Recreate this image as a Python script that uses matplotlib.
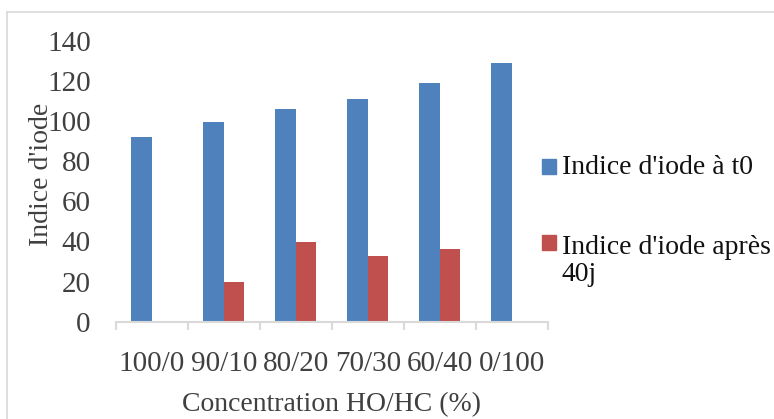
import numpy as np
import matplotlib.pyplot as plt
from matplotlib.lines import Line2D
from matplotlib.patches import Rectangle

# Indice d'iode selon le mélange HO/HC
concentrations = ['100/0', '90/10', '80/20', '70/30', '60/40', '0/100']
indice_t0 = [92, 99.5, 106, 111, 119, 129]
indice_40j = [np.nan, 20, 39.5, 32.5, 36, np.nan]

label_t0 = "Indice d'iode à t0"
label_40j = "Indice d'iode après\n40j"

bleu = '#4F81BD'
rouge = '#C0504D'
gris = '#D9D9D9'
texte = '#404040'

plt.rcParams['font.family'] = ['Liberation Serif', 'DejaVu Serif']

fig = plt.figure(figsize=(7.74, 4.19), dpi=100)
ax = fig.add_axes([0.1495, 0.2322, 0.5581, 0.6706])

x = np.arange(len(concentrations))
largeur = 0.285
ax.bar(x - largeur / 2, indice_t0, largeur, color=bleu, label=label_t0)
ax.bar(x + largeur / 2, indice_40j, largeur, color=rouge, label=label_40j)

ax.set_xlim(-0.5, len(concentrations) - 0.5)
ax.set_ylim(0, 140)
ax.set_yticks(np.arange(0, 141, 20))
ax.tick_params(axis='y', length=0, pad=18, labelsize=21, labelcolor=texte)

# séparateurs entre catégories, étiquettes au centre
ax.set_xticks(np.arange(-0.5, len(concentrations)), minor=False)
ax.set_xticklabels([])
ax.set_xticks(x, minor=True)
ax.set_xticklabels(concentrations, minor=True)
ax.tick_params(axis='x', which='major', length=6, width=1.5, color=gris, direction='out')
ax.tick_params(axis='x', which='minor', length=0, pad=21, labelsize=21, labelcolor=texte)

for cote in ['left', 'right', 'top']:
    ax.spines[cote].set_visible(False)
ax.spines['bottom'].set_color(gris)
ax.spines['bottom'].set_linewidth(1.5)

ax.set_ylabel("Indice d'iode", fontsize=20, color=texte)
ax.yaxis.set_label_coords(-0.143, 0.524)
ax.set_xlabel('Concentration HO/HC (%)', fontsize=20, color=texte)
ax.xaxis.label.set_va('center')
ax.xaxis.set_label_coords(0.5, -0.295)

# légende à droite
W, H = 774, 419
for (y_carre, couleur) in [(166.5, bleu), (242.5, rouge)]:
    fig.patches.append(Rectangle((541.7 / W, 1 - (y_carre + 7.5) / H), 14.5 / W, 15 / H,
                                 transform=fig.transFigure, color=couleur))
fig.text(561.5 / W, 1 - 167 / H, label_t0, fontsize=20, color='#111111', va='center')
fig.text(561.5 / W, 1 - 261 / H, label_40j, fontsize=20, color='#111111', va='center',
         linespacing=1.1)

# cadre du graphique
fig.add_artist(Line2D([7 / W, 7 / W], [0, 1 - 12 / H], transform=fig.transFigure, color=gris, lw=1.2))
fig.add_artist(Line2D([7 / W, 1], [1 - 12 / H, 1 - 12 / H], transform=fig.transFigure, color=gris, lw=1.2))

fig.savefig('out.png', dpi=100)
